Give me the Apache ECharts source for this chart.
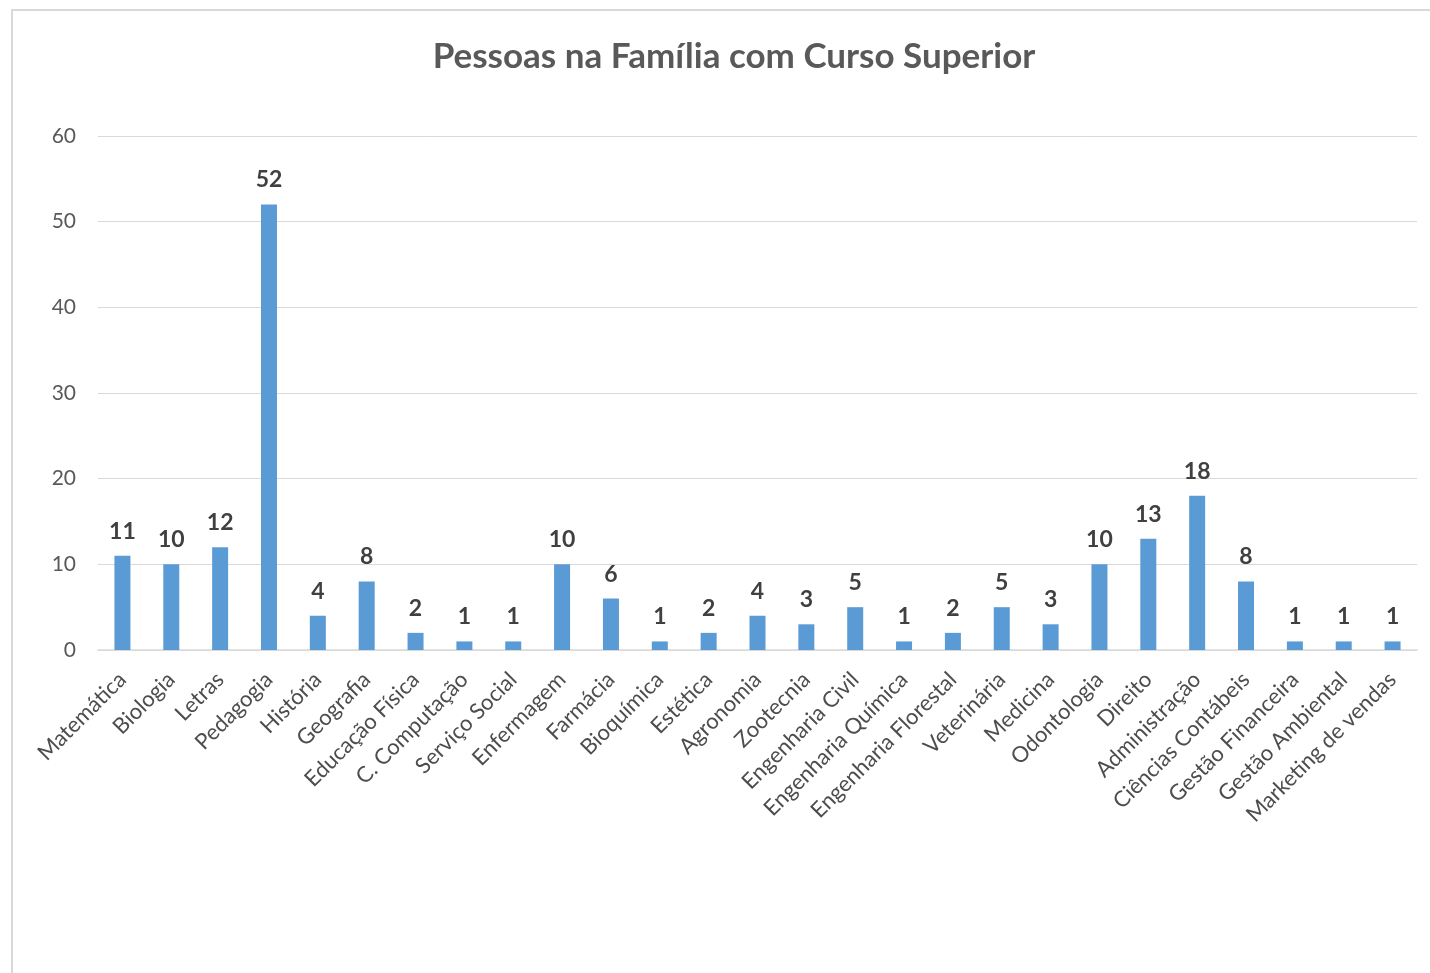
<!DOCTYPE html>
<html>
<head>
<meta charset="utf-8">
<script src="https://cdn.jsdelivr.net/npm/echarts@6/dist/echarts.min.js"></script>
<style>
  html, body { margin: 0; padding: 0; background: #fff; }
  #chart { width: 1430px; height: 973px; }
</style>
</head>
<body>
<div id="chart"></div>
<script>
const cursos = [
  'Matemática', 'Biologia', 'Letras', 'Pedagogia', 'História', 'Geografia',
  'Educação Física', 'C. Computação', 'Serviço Social', 'Enfermagem', 'Farmácia',
  'Bioquímica', 'Estética', 'Agronomia', 'Zootecnia', 'Engenharia Civil',
  'Engenharia Química', 'Engenharia Florestal', 'Veterinária', 'Medicina',
  'Odontologia', 'Direito', 'Administração', 'Ciências Contábeis',
  'Gestão Financeira', 'Gestão Ambiental', 'Marketing de vendas'
]
const pessoas = [11, 10, 12, 52, 4, 8, 2, 1, 1, 10, 6, 1, 2, 4, 3, 5, 1, 2, 5, 3, 10, 13, 18, 8, 1, 1, 1]

const fonte = 'Lato, "Open Sans", sans-serif'

const chart = echarts.init(document.getElementById('chart'))

chart.setOption({
  animation: false,
  title: {
    text: 'Pessoas na Família com Curso Superior',
    left: 729,
    top: 34,
    textAlign: 'center',
    textStyle: {
      fontFamily: fonte,
      fontSize: 35,
      fontWeight: 'bold',
      color: '#595959'
    }
  },
  graphic: [{
    type: 'rect',
    shape: { x: 12, y: 10, width: 1440, height: 1000 },
    style: { fill: 'none', stroke: '#d9d9d9', lineWidth: 2 },
    silent: true
  }],
  grid: {
    left: 98,
    right: 13,
    top: 136,
    bottom: 323
  },
  xAxis: {
    type: 'category',
    data: cursos,
    axisTick: { show: false },
    axisLine: { lineStyle: { color: '#d9d9d9', width: 1.5 } },
    axisLabel: {
      rotate: 45,
      interval: 0,
      margin: 26,
      fontFamily: fonte,
      fontSize: 22,
      color: '#4d4d4d'
    }
  },
  yAxis: {
    type: 'value',
    min: 0,
    max: 60,
    interval: 10,
    axisLine: { show: false },
    axisTick: { show: false },
    splitLine: { lineStyle: { color: '#d9d9d9', width: 1 } },
    axisLabel: {
      margin: 22,
      fontFamily: fonte,
      fontSize: 21,
      color: '#595959'
    }
  },
  series: [{
    type: 'bar',
    data: pessoas,
    barWidth: 16,
    itemStyle: { color: '#5b9bd5' },
    label: {
      show: true,
      position: 'top',
      distance: 13,
      fontFamily: fonte,
      fontSize: 23,
      fontWeight: 'bold',
      color: '#404040'
    }
  }]
})
</script>
</body>
</html>
